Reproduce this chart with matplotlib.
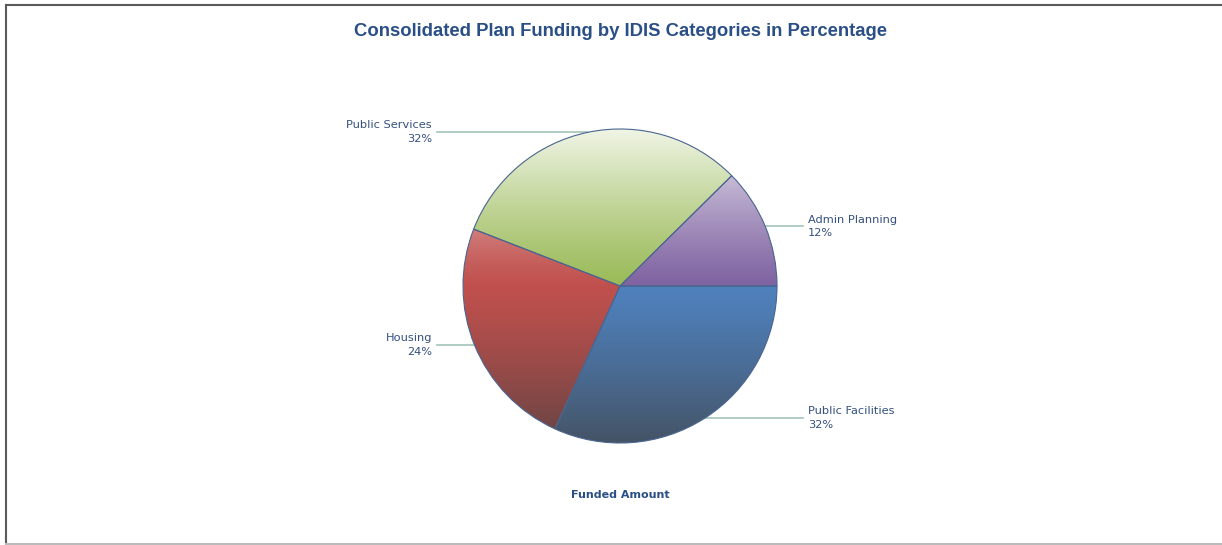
import matplotlib
matplotlib.use("Agg")
import matplotlib.pyplot as plt
import numpy as np
from matplotlib.colors import to_rgb

# data (shares; labels show rounded values)
categories = ["Public Facilities", "Housing", "Public Services", "Admin Planning"]
percent = [31.8, 24.1, 31.7, 12.4]
colors = ["#4f81bd", "#c0504d", "#9bbb59", "#8064a2"]

W, H = 1222, 545
fig = plt.figure(figsize=(W / 100, H / 100), dpi=100)
ax = fig.add_axes([0, 0, 1, 1])

def py(y):
    # pixel row (from top) -> data y
    return H - y

cx, cy, r = 620, py(286), 157

wedges, _ = ax.pie(percent, startangle=0, counterclock=False, radius=r,
                   center=(cx, cy), frame=True,
                   wedgeprops=dict(edgecolor="#4a6590", linewidth=0.8))

# vertical gradient per slice: light at top, base in middle, dark at bottom
n = 256
t = np.linspace(1, -1, n)  # top -> bottom
dark = np.array(to_rgb("#404040"))
white = np.ones(3)
for w, c in zip(wedges, colors):
    base = np.array(to_rgb(c))
    img = np.zeros((n, 1, 3))
    for i, tt in enumerate(t):
        if tt >= 0:
            f = 0.85 * tt ** 1.2
            img[i, 0] = base * (1 - f) + white * f
        else:
            f = 0.7 * (-tt) ** 1.2
            img[i, 0] = base * (1 - f) + dark * f
    w.set_facecolor("none")
    im = ax.imshow(img, extent=(cx - r, cx + r, cy - r, cy + r), aspect="auto",
                   zorder=0.5, interpolation="bilinear")
    im.set_clip_path(w)

ax.set_xlim(0, W)
ax.set_ylim(0, H)
ax.set_aspect("equal")
ax.axis("off")

# leader lines and labels
lab_color = "#34507e"
angles = np.cumsum([0] + percent)
for i, (name, p) in enumerate(zip(categories, percent)):
    mid = -(angles[i] + p / 2) / 100 * 360
    ex = cx + r * np.cos(np.radians(mid))
    ey = cy + r * np.sin(np.radians(mid))
    if ex < cx:
        x2, tx, ha = 437, 432, "right"
    else:
        x2, tx, ha = 803, 808, "left"
    ax.plot([ex, x2], [ey, ey], color="#a3c4b8", lw=1.2, zorder=0.4)
    ax.text(tx, ey, f"{name}\n{p:.0f}%", ha=ha, va="center", fontsize=8.2,
            color=lab_color, family="DejaVu Sans", linespacing=1.45)

ax.text(620, py(31), "Consolidated Plan Funding by IDIS Categories in Percentage",
        ha="center", va="center", fontsize=13.3, fontweight="bold",
        color="#2a4f86", family="Liberation Sans")
ax.text(620, py(495), "Funded Amount", ha="center", va="center", fontsize=8,
        fontweight="bold", color="#2a4f86", family="DejaVu Sans")

# outer frame (left, top, bottom)
ax.plot([5.5, 5.5], [py(4.5), py(543.5)], color="#5a5a5a", lw=1.5)
ax.plot([5.5, W], [py(4.5), py(4.5)], color="#5a5a5a", lw=1.5)
ax.plot([5.5, W], [py(543.5), py(543.5)], color="#bbbbbb", lw=1.5)

fig.savefig("out.png", dpi=100)
